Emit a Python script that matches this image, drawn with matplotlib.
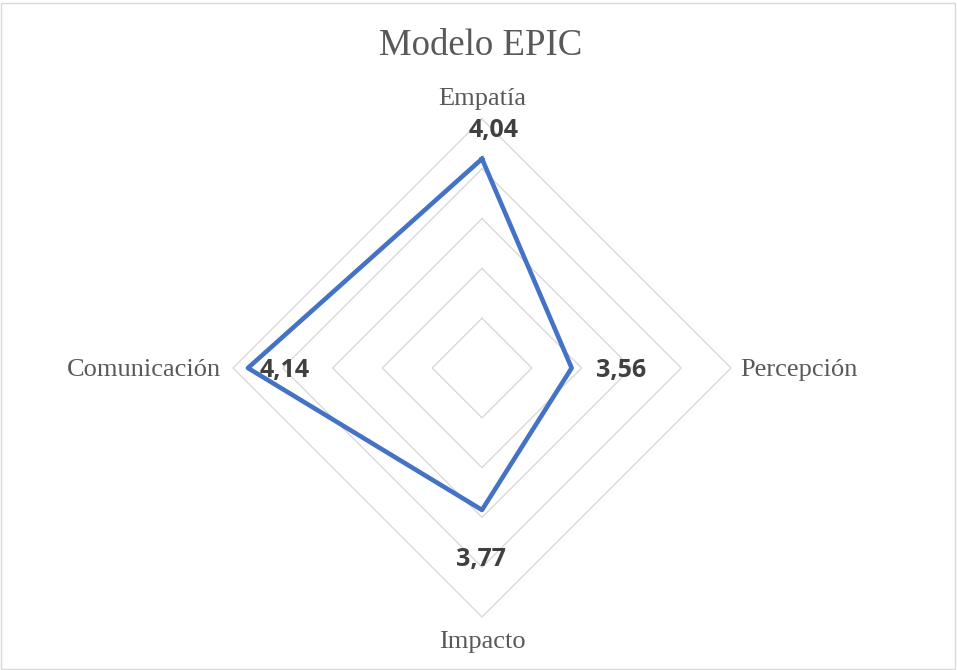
import numpy as np
import matplotlib.pyplot as plt
from matplotlib.patches import Rectangle

# ------------------------------------------------------------------
# Data
# ------------------------------------------------------------------
categories = ["Empatía", "Percepción", "Impacto", "Comunicación"]
values = [4.04, 3.56, 3.77, 4.14]
value_labels = ["4,04", "3,56", "3,77", "4,14"]
ring_levels = [3.4, 3.6, 3.8, 4.0, 4.2]
r_min, r_max = 3.2, 4.2

# label offsets (pixels) from the data point / outer ring vertex
value_offsets = [(12, 28), (49, -2), (-1, -50), (37, -2)]
cat_offsets = [(0, 20), (9, -2), (0, -25), (-12, -2)]
cat_align = [("center", "center"), ("left", "center"),
             ("center", "center"), ("right", "center")]

grid_col = "#D9D9D9"
text_col = "#595959"
line_col = "#4472C4"

# ------------------------------------------------------------------
# Figure
# ------------------------------------------------------------------
W, H = 957, 670
fig = plt.figure(figsize=(W / 100, H / 100), dpi=100)
fig.patches.append(Rectangle((1 / W, 1 / H), 1 - 3 / W, 1 - 4 / H,
                             transform=fig.transFigure, fill=False,
                             edgecolor=grid_col, lw=1))

cx, cy, R = 482, 368, 249
ax = fig.add_axes([(cx - R) / W, (H - cy - R) / H, 2 * R / W, 2 * R / H],
                  projection="polar")
ax.set_theta_zero_location("N")
ax.set_theta_direction(-1)
ax.set_ylim(r_min, r_max)
ax.grid(False)
ax.set_xticks([])
ax.set_yticks([])
ax.spines["polar"].set_visible(False)
ax.patch.set_visible(False)

theta = np.linspace(0, 2 * np.pi, len(categories), endpoint=False)
theta_closed = np.append(theta, theta[0])

# diamond gridlines
for lev in ring_levels:
    ax.plot(theta_closed, [lev] * len(theta_closed), color=grid_col,
            lw=1.0, zorder=1, clip_on=False)

# series
ax.plot(theta_closed, values + values[:1], color=line_col, lw=3.3,
        zorder=3, clip_on=False)

# data labels
for t, v, lab, off in zip(theta, values, value_labels, value_offsets):
    ax.annotate(lab, (t, v), xytext=off, textcoords="offset pixels",
                ha="center", va="center", fontsize=18, fontweight="bold",
                family="Open Sans", color="#404040", zorder=4)

# category labels
for t, cat, off, (ha, va) in zip(theta, categories, cat_offsets, cat_align):
    ax.annotate(cat, (t, r_max), xytext=off, textcoords="offset pixels",
                ha=ha, va=va, fontsize=19, family="Liberation Serif",
                color=text_col, annotation_clip=False)

fig.text(481 / W, 1 - 46 / H, "Modelo EPIC", ha="center", va="center",
         fontsize=26.5, family="Liberation Serif", color=text_col)

fig.savefig("out.png", dpi=100)
